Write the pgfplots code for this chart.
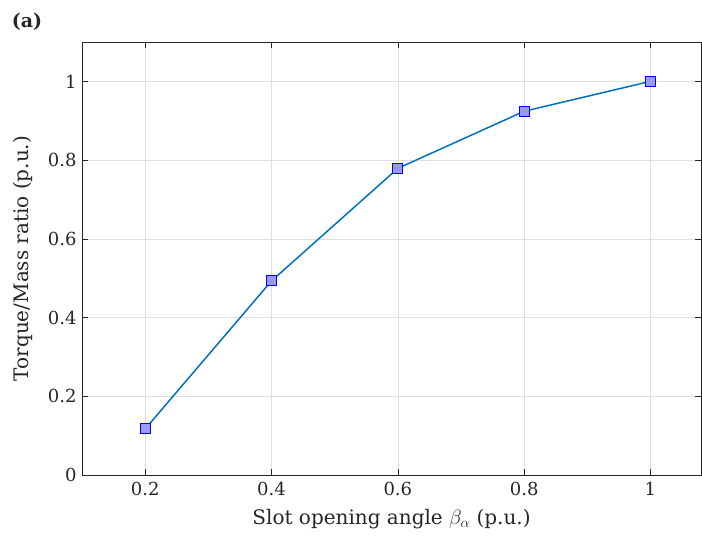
\documentclass[border=0pt]{standalone}
\usepackage{fontspec}
\setmainfont{DejaVu Serif}
\usepackage{pgfplots}
\pgfplotsset{compat=1.18}
\definecolor{mblue}{RGB}{0,114,189}
\definecolor{axgray}{RGB}{38,38,38}
\begin{document}
\begin{tikzpicture}
\begin{axis}[
  scale only axis,
  width=619pt, height=433pt,
  xmin=0.1, xmax=1.08, ymin=0, ymax=1.1,
  xtick={0.2,0.4,0.6,0.8,1}, ytick={0,0.2,0.4,0.6,0.8,1},
  xticklabels={0.2,0.4,0.6,0.8,1},
  yticklabels={0,0.2,0.4,0.6,0.8,1},
  tick align=inside, major tick length=6pt,
  tick style={axgray, line width=0.6pt},
  axis line style={axgray, line width=0.8pt},
  grid=major, grid style={gray!25, line width=0.6pt},
  ticklabel style={font=\fontsize{18}{22}\selectfont, text=axgray},
  xticklabel style={yshift=-4pt},
  yticklabel style={xshift=-2pt},
  xlabel={Slot opening angle $\beta_{\alpha}$ (p.u.)},
  ylabel={Torque/Mass ratio (p.u.)},
  label style={font=\fontsize{20}{24}\selectfont, text=axgray},
  xlabel style={yshift=-6pt},
  ylabel style={yshift=8pt},
]
\addplot[mblue, line width=1.5pt, mark=square*, mark size=5pt,
  mark options={draw=blue, fill=blue!40, line width=1pt}]
  coordinates {(0.2,0.117) (0.4,0.493) (0.6,0.779) (0.8,0.924) (1,1)};
\end{axis}
\node[font=\bfseries\fontsize{19}{23}\selectfont, text=axgray] at ([xshift=-55pt,yshift=20pt]current axis.north west) {(a)};
\path ([xshift=-82pt,yshift=-74pt]current axis.south west) ([xshift=1pt,yshift=42pt]current axis.north east);
\end{tikzpicture}
\end{document}
